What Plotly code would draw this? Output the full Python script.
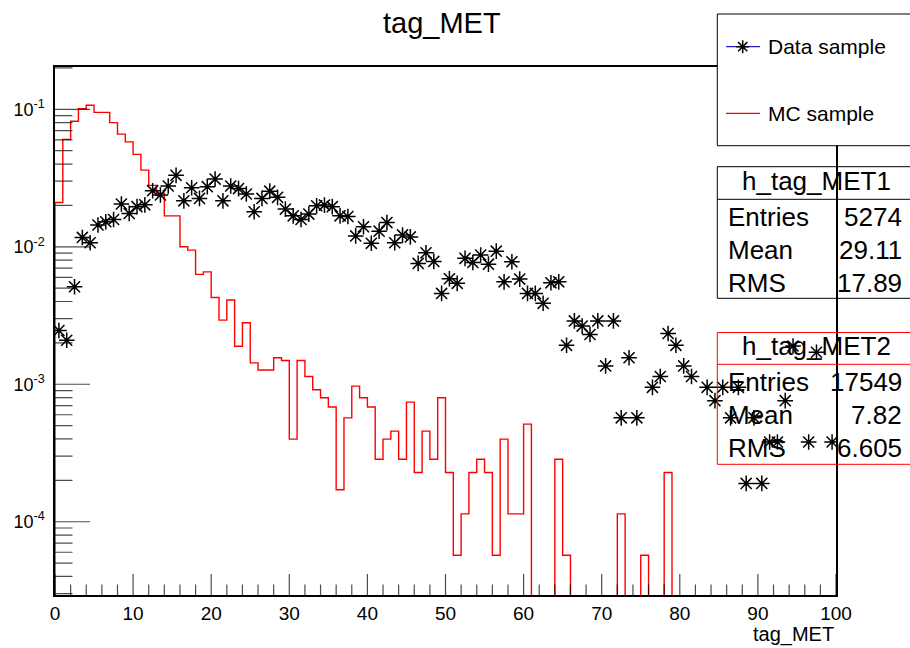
import math
import numpy as np
import plotly.graph_objects as go

# Histogram binning (tag_MET, 100 bins from 0 to 100)
n_bins = 100
x_min, x_max = 0.0, 100.0

# Normalised bin contents of the data sample (None = empty bin, not drawn on log scale)
data_values = [
    0.00246, 0.00209, 0.00512, 0.0117, 0.0107, 0.0144, 0.0152, 0.0158, 0.0205, 0.0175,
    0.0196, 0.0202, 0.0256, 0.0238, 0.0277, 0.0331, 0.0216, 0.0269, 0.0225, 0.0274,
    0.0311, 0.0216, 0.0277, 0.0265, 0.0242, 0.0180, 0.0225, 0.0254, 0.0229, 0.0188,
    0.0168, 0.0158, 0.0173, 0.0199, 0.0201, 0.0196, 0.0168, 0.0166, 0.0120, 0.0140,
    0.0106, 0.0130, 0.0150, 0.0107, 0.0122, 0.0118, 0.00757, 0.00904, 0.00783, 0.00458,
    0.00585, 0.00542, 0.00824, 0.00769, 0.00871, 0.00748, 0.0093, 0.00556, 0.00778, 0.00582,
    0.00458, 0.00458, 0.00388, 0.00547, 0.00556, 0.00192, 0.00289, 0.00265, 0.00230, 0.00289,
    0.00136, 0.00289, 0.00057, 0.00156, 0.00057, None, 0.00095, 0.00114, 0.00234, 0.00192,
    0.00136, 0.00114, None, 0.00095, 0.00076, 0.00095, 0.00057, 0.00095, 0.00019, 0.00057,
    0.00019, 0.00038, 0.00038, 0.00076, 0.00190, None, 0.00038, 0.00171, None, 0.00038,
]

# Normalised bin contents of the MC sample
mc_values = [
    0.021, 0.0605, 0.082, 0.101, 0.107, 0.095, 0.095, 0.080, 0.066, 0.058,
    0.047, 0.0361, 0.028, 0.0245, 0.0168, 0.0168, 0.0100, 0.00946, 0.0063, 0.00657,
    0.00428, 0.00293, 0.0041, 0.00189, 0.0028, 0.00143, 0.00127, 0.00127, 0.00156, 0.00149,
    0.000399, 0.00149, 0.00114, 0.000912, 0.000798, 0.000684, 0.000171, 0.00057, 0.000969, 0.000798,
    0.000684, 0.000285, 0.000399, 0.000456, 0.000285, 0.000741, 0.000228, 0.000456, 0.000285, 0.000798,
    0.000228, 0.000057, 0.000114, 0.000228, 0.000285, 0.000228, 0.000057, 0.000399, 0.000114, 0.000114,
    0.000513, 0, 0, 0, 0.000285, 0.000057, 0, 0, 0, 0,
    0, 0, 0.000114, 0, 0, 0.000057, 0, 0, 0.000228, 0,
    0, 0, 0, 0, 0, 0, 0, 0, 0, 0,
    0, 0, 0, 0, 0, 0, 0, 0, 0, 0,
]

# Statistics boxes
stat_labels = ["Entries", "Mean", "RMS"]
data_hist_name = "h_tag_MET1"
data_stat_values = ["5274", "29.11", "17.89"]
mc_hist_name = "h_tag_MET2"
mc_stat_values = ["17549", "7.82", "6.605"]

# Axis ticks
x_tick_vals = list(range(0, 101, 10))
x_minor_vals = [v for v in range(0, 101, 2) if v % 10]
y_tick_vals = [1e-4, 1e-3, 1e-2, 1e-1]
y_tick_text = ["10<sup>-4</sup>", "10<sup>-3</sup>", "10<sup>-2</sup>", "10<sup>-1</sup>"]
y_minor_vals = [m * 10.0 ** e for e in range(-5, 0) for m in range(2, 10)]
y_log_range = [-4.533, -0.692]

# Canvas geometry (pixels) and helpers converting canvas pixels to paper coordinates
W, H = 910, 648
L, R, T, B = 55, 74, 67, 53
PW, PH = W - L - R, H - T - B


def px(x):
    return (x - L) / PW


def py(y):
    return (H - B - y) / PH


FONT = "Liberation Sans, Arial, Helvetica, sans-serif"

edges = np.linspace(x_min, x_max, n_bins + 1)
centers = 0.5 * (edges[:-1] + edges[1:])

# Empty MC bins drop below the visible range, like a ROOT histogram outline on a log axis
floor = 10 ** (y_log_range[0] - 1)
mc_plot = [v if v > 0 else floor for v in mc_values]
x_step = [x_min] + list(edges[:-1]) + [x_max]
y_step = [floor] + mc_plot + [mc_plot[-1]]

y_bottom = 10 ** y_log_range[0]
y_in_range = [v for v in y_tick_vals + y_minor_vals
              if y_log_range[0] <= math.log10(v) <= y_log_range[1]]

fig = go.Figure()

fig.add_trace(go.Scatter(
    x=x_step, y=y_step, mode="lines", line_shape="hv",
    line=dict(color="#ff0000", width=1.4), showlegend=False, name="MC sample",
))

fig.add_trace(go.Scatter(
    x=centers, y=data_values, mode="markers",
    marker=dict(symbol="asterisk-open", size=13, color="black",
                line=dict(color="black", width=1.5)),
    showlegend=False, name="Data sample",
))

# Inward tick marks: line markers centred on the axis, half of each clipped by the frame
fig.add_trace(go.Scatter(
    x=x_tick_vals + x_minor_vals, y=[y_bottom] * (len(x_tick_vals) + len(x_minor_vals)),
    mode="markers", cliponaxis=True, hoverinfo="skip", showlegend=False,
    marker=dict(symbol="line-ns-open", color="black",
                size=[30] * len(x_tick_vals) + [15] * len(x_minor_vals),
                line=dict(color="black", width=1.2)),
))
fig.add_trace(go.Scatter(
    x=[x_min] * len(y_in_range), y=y_in_range,
    mode="markers", cliponaxis=True, hoverinfo="skip", showlegend=False,
    marker=dict(symbol="line-ew-open", color="black",
                size=[50 if v in y_tick_vals else 25 for v in y_in_range],
                line=dict(color="black", width=1.2)),
))

fig.update_layout(
    width=W, height=H,
    margin=dict(l=L, r=R, t=T, b=B),
    paper_bgcolor="white", plot_bgcolor="white",
    font=dict(family=FONT, color="black"),
    showlegend=False,
)

fig.update_xaxes(
    range=[x_min, x_max], tickmode="array", tickvals=x_tick_vals, ticks="",
    showgrid=False, zeroline=False,
    showline=True, linecolor="black", linewidth=1.5, mirror=True,
    tickfont=dict(size=19, family=FONT, color="black"),
)

fig.update_yaxes(
    type="log", range=y_log_range, tickmode="array",
    tickvals=y_tick_vals, ticktext=y_tick_text, ticks="",
    showgrid=False, zeroline=False,
    showline=True, linecolor="black", linewidth=1.5, mirror=True,
    tickfont=dict(size=18, family=FONT, color="black"), ticklabelstandoff=5,
)

shapes = []
annotations = []

# Title and x-axis title
annotations.append(dict(text="tag_MET", x=px(441.7), y=py(23), xref="paper", yref="paper",
                        xanchor="center", yanchor="middle", showarrow=False,
                        font=dict(size=29, family=FONT, color="black")))
annotations.append(dict(text="tag_MET", x=px(836), y=py(634), xref="paper", yref="paper",
                        xanchor="right", yanchor="middle", showarrow=False,
                        font=dict(size=20, family=FONT, color="black")))

# Legend box
shapes.append(dict(type="rect", xref="paper", yref="paper",
                   x0=px(717.3), x1=px(916), y0=py(145.7), y1=py(14),
                   line=dict(color="black", width=1), fillcolor="white", layer="above"))
shapes.append(dict(type="line", xref="paper", yref="paper",
                   x0=px(726), x1=px(760), y0=py(46.7), y1=py(46.7),
                   line=dict(color="#2222cc", width=1.2), layer="above"))
cx, cy, a = 742.7, 46.7, 6.5
d = a * 0.7071
star_path = (
    f"M{px(cx - a)},{py(cy)} L{px(cx + a)},{py(cy)} "
    f"M{px(cx)},{py(cy - a)} L{px(cx)},{py(cy + a)} "
    f"M{px(cx - d)},{py(cy - d)} L{px(cx + d)},{py(cy + d)} "
    f"M{px(cx - d)},{py(cy + d)} L{px(cx + d)},{py(cy - d)}"
)
shapes.append(dict(type="path", xref="paper", yref="paper", path=star_path,
                   line=dict(color="black", width=1.5), layer="above"))
shapes.append(dict(type="line", xref="paper", yref="paper",
                   x0=px(726), x1=px(760), y0=py(113.3), y1=py(113.3),
                   line=dict(color="#ff0000", width=1.2), layer="above"))
for label, ycen in (("Data sample", 46.7), ("MC sample", 113.0)):
    annotations.append(dict(text=label, x=px(766.7), y=py(ycen), xref="paper", yref="paper",
                            xanchor="left", yanchor="middle", showarrow=False, borderpad=0,
                            font=dict(size=21, family=FONT, color="black")))


def stats_box(top, divider, bottom, colour, name, values, title_y, row_ys):
    shapes.append(dict(type="rect", xref="paper", yref="paper",
                       x0=px(717.3), x1=px(916), y0=py(bottom), y1=py(top),
                       line=dict(color=colour, width=1), layer="above"))
    shapes.append(dict(type="line", xref="paper", yref="paper",
                       x0=px(717.3), x1=px(916), y0=py(divider), y1=py(divider),
                       line=dict(color=colour, width=1), layer="above"))
    annotations.append(dict(text=name, x=px(816), y=py(title_y), xref="paper", yref="paper",
                            xanchor="center", yanchor="middle", showarrow=False, borderpad=0,
                            font=dict(size=26, family=FONT, color="black")))
    for lab, val, ry in zip(stat_labels, values, row_ys):
        annotations.append(dict(text=lab, x=px(727.3), y=py(ry), xref="paper", yref="paper",
                                xanchor="left", yanchor="middle", showarrow=False, borderpad=0,
                                font=dict(size=26, family=FONT, color="black")))
        annotations.append(dict(text=val, x=px(903.3), y=py(ry), xref="paper", yref="paper",
                                xanchor="right", yanchor="middle", showarrow=False, borderpad=0,
                                font=dict(size=26, family=FONT, color="black")))


stats_box(166.7, 199.3, 298.3, "black", data_hist_name, data_stat_values,
          181.2, [216.7, 250.0, 282.5])
stats_box(332.5, 364.3, 464.3, "#ff0000", mc_hist_name, mc_stat_values,
          346.3, [382.0, 415.0, 447.5])

fig.update_layout(shapes=shapes, annotations=annotations)

fig.write_html("out.html")
